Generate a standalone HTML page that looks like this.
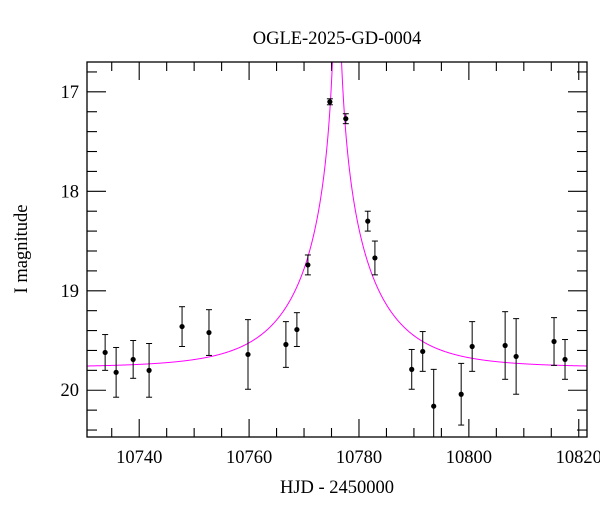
<!DOCTYPE html>
<html><head><meta charset="utf-8"><style>
html,body{margin:0;padding:0;background:#fff;overflow:hidden;}
svg text{font-family:"Liberation Serif",serif;fill:#000;}
</style></head><body>
<svg id="chart" width="600" height="512" xmlns="http://www.w3.org/2000/svg">
<text x="337" y="44" text-anchor="middle" font-size="18.5">OGLE-2025-GD-0004</text>
<text x="337" y="493" text-anchor="middle" font-size="18.5">HJD - 2450000</text>
<text transform="translate(27,249) rotate(-90)" text-anchor="middle" font-size="18.5">I magnitude</text>
<g id="ticks"></g><g id="curve"></g><g id="points"></g>
<rect x="87" y="62" width="500" height="375" fill="none" stroke="#000" stroke-width="1.3"/>
</svg>
<script>
const times=[10733.8,10735.8,10738.9,10741.8,10747.8,10752.7,10759.8,10766.7,10768.7,10770.7,10774.7,10777.6,10781.6,10782.9,10789.6,10791.6,10793.6,10798.6,10800.6,10806.6,10808.6,10815.5,10817.5];
const mags=[19.62,19.82,19.69,19.80,19.36,19.42,19.64,19.54,19.39,18.74,17.10,17.27,18.30,18.67,19.79,19.61,20.16,20.04,19.56,19.55,19.66,19.51,19.69];
const errs=[0.18,0.25,0.19,0.27,0.20,0.23,0.35,0.23,0.17,0.10,0.03,0.05,0.10,0.17,0.20,0.20,0.37,0.31,0.25,0.34,0.38,0.24,0.20];
const xTicks=[10740,10760,10780,10800,10820];
const yTicks=[17,18,19,20];
const baseMag=19.77, t0=10776.0, tE=14, u0=0.001;
const X0=87,X1=587,Y0=62,Y1=437, xmin=10730.5,xmax=10821.5, ymin=16.7,ymax=20.47;
const sx=t=>X0+(t-xmin)/(xmax-xmin)*(X1-X0);
const sy=m=>Y0+(m-ymin)/(ymax-ymin)*(Y1-Y0);
const NS="http://www.w3.org/2000/svg";
function mk(tag,attrs,parent){const e=document.createElementNS(NS,tag);for(const k in attrs)e.setAttribute(k,attrs[k]);parent.appendChild(e);return e;}
const tg=document.getElementById('ticks');
for(let t=10735;t<=10820;t+=5){const maj=(t%20===0);const L=maj?18:9;const x=sx(t);
 const a=mk('line',{x1:x,x2:x,y1:Y1,y2:Y1-L,stroke:'#000','stroke-width':1.1},tg);
 
 const b=mk('line',{x1:x,x2:x,y1:Y0,y2:Y0+L,stroke:'#000','stroke-width':1.1},tg);
 }
xTicks.forEach(t=>{const e=mk('text',{x:sx(t),y:463,'text-anchor':'middle','font-size':18.5},tg);e.textContent=t;
 });
for(let i=0;i<=18;i++){const m=16.8+i*0.2;if(m>ymax)break;const maj=Math.abs(m-Math.round(m))<1e-6;const L=maj?19:10;const y=sy(m);
 const a=mk('line',{x1:X0,x2:X0+L,y1:y,y2:y,stroke:'#000','stroke-width':1.1},tg);
 
 const b=mk('line',{x1:X1,x2:X1-L,y1:y,y2:y,stroke:'#000','stroke-width':1.1},tg);
 }
yTicks.forEach(m=>{const e=mk('text',{x:79,y:sy(m)+6,'text-anchor':'end','font-size':18.5},tg);e.textContent=m;
 });
let d='';const N=1500;
for(let i=0;i<=N;i++){const t=xmin+(xmax-xmin)*i/N;const u=Math.sqrt(u0*u0+Math.pow((t-t0)/tE,2));
 const A=(u*u+2)/(u*Math.sqrt(u*u+4));let m=baseMag-2.5*Math.log10(A);if(m<ymin-0.5)m=ymin-0.5;
 d+=(i?'L':'M')+sx(t).toFixed(2)+','+sy(m).toFixed(2);}
const cg=document.getElementById('curve');
const cp=document.createElementNS(NS,'clipPath');cp.setAttribute('id','clip');mk('rect',{x:X0,y:Y0,width:X1-X0,height:Y1-Y0},cp);document.querySelector('svg').appendChild(cp);
const path=mk('path',{d:d,fill:'none',stroke:'#ff00ff','stroke-width':1,'clip-path':'url(#clip)'},cg);

const pg=document.getElementById('points');
times.forEach((t,i)=>{const x=sx(t),y=sy(mags[i]);const ya=Math.max(sy(mags[i]-errs[i]),Y0),yb=Math.min(sy(mags[i]+errs[i]),Y1);
 const g=mk('g',{'clip-path':'url(#clip)'},pg);
 
 mk('line',{x1:x,x2:x,y1:ya,y2:yb,stroke:'#000','stroke-width':1},g);
 mk('line',{x1:x-3,x2:x+3,y1:sy(mags[i]-errs[i]),y2:sy(mags[i]-errs[i]),stroke:'#000','stroke-width':1},g);
 mk('line',{x1:x-3,x2:x+3,y1:sy(mags[i]+errs[i]),y2:sy(mags[i]+errs[i]),stroke:'#000','stroke-width':1},g);
 mk('circle',{cx:x,cy:y,r:2.6,fill:'#000'},g);});
</script>
</body></html>
